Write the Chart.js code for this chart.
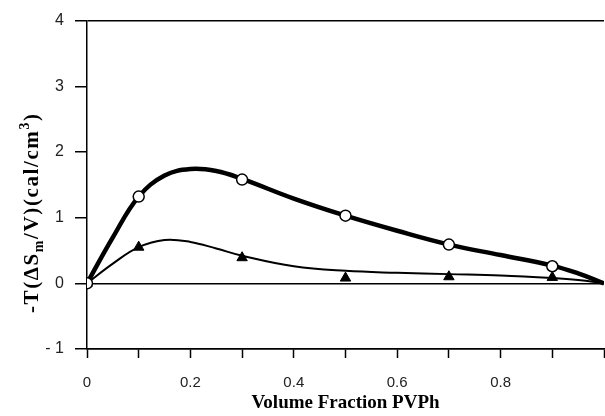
<!DOCTYPE html>
<html>
<head>
	<script src="https://cdn.jsdelivr.net/npm/chart.js@4.4.1/dist/chart.umd.min.js"></script>
	<style>
		html, body { margin: 0; background: #fff; overflow: hidden; }
		#wrapper { width: 605px; height: 416px; }
	</style>
</head>
<body>
	<div id="wrapper"><canvas id="myChart" width="605" height="416"></canvas></div>
	<script>
// measured points (volume fraction PVPh)
var circleX = [0, 0.1, 0.3, 0.5, 0.7, 0.9];
var circleY = [0, 1.32, 1.58, 1.03, 0.59, 0.26];
var triX = [0, 0.1, 0.3, 0.5, 0.7, 0.9];
var triY = [0, 0.55, 0.39, 0.08, 0.1, 0.09];

// smooth curves
var fitX = [0, 0.05, 0.1, 0.15, 0.2, 0.25, 0.3, 0.4, 0.5, 0.6, 0.7, 0.8, 0.9, 0.95, 1.0];
var thickY = [0, 0.70, 1.32, 1.64, 1.74, 1.71, 1.59, 1.29, 1.03, 0.8, 0.59, 0.43, 0.27, 0.15, 0];
var thinY = [0, 0.30, 0.55, 0.66, 0.63, 0.53, 0.42, 0.26, 0.19, 0.16, 0.14, 0.12, 0.08, 0.05, 0];

var yTicks = [-1, 0, 1, 2, 3, 4];
var xLabels = [0, 0.2, 0.4, 0.6, 0.8];

function pts(xs, ys) {
	return xs.map(function(x, i) { return {x: x, y: ys[i]}; });
}

// stretch the plot to the right edge of the canvas
var stretchRight = {
	id: 'stretchRight',
	afterLayout: function(chart) {
		var r = chart.width - 1;
		var a = chart.chartArea;
		a.right = r;
		a.width = r - a.left;
		var x = chart.scales.x;
		x.right = r;
		x.width = r - x.left;
		x.configure();
	}
};

// y title with subscript m and superscript 3, drawn letter by letter
var yTitle = {
	id: 'yTitle',
	afterDraw: function(chart) {
		var c = chart.ctx;
		var parts = [
			['-T(ΔS', 0, 21], ['m', 5, 14], ['/V)(cal/cm', 0, 21], ['3', -9, 14], [')', 0, 21]
		];
		c.save();
		c.translate(38, 313);
		c.rotate(-Math.PI / 2);
		c.fillStyle = '#000';
		c.textBaseline = 'alphabetic';
		var x = 0;
		parts.forEach(function(p) {
			c.font = 'bold ' + p[2] + 'px "Liberation Serif"';
			p[0].split('').forEach(function(ch) {
				c.fillText(ch, x, p[1]);
				x += c.measureText(ch).width + 1.6;
			});
		});
		c.restore();
	}
};

var ctx = document.getElementById("myChart");
var myChart = new Chart(ctx, {
	type: 'scatter',
	data: {
		datasets: [
			{
				data: pts(circleX, circleY),
				pointStyle: 'circle',
				pointRadius: 5.5,
				pointBackgroundColor: '#fff',
				pointBorderColor: '#000',
				pointBorderWidth: 1.5,
				showLine: false,
				order: 0
			},
			{
				data: pts(triX, triY),
				pointStyle: 'triangle',
				pointRadius: 6,
				pointBackgroundColor: '#000',
				pointBorderColor: '#000',
				pointBorderWidth: 1,
				showLine: false,
				order: 1
			},
			{
				data: pts(fitX, thickY),
				showLine: true,
				borderColor: '#000',
				borderWidth: 4.5,
				pointRadius: 0,
				tension: 0.4,
				order: 2
			},
			{
				data: pts(fitX, thinY),
				showLine: true,
				borderColor: '#000',
				borderWidth: 2,
				pointRadius: 0,
				tension: 0.4,
				order: 3
			}
		]
	},
	options: {
		responsive: false,
		animation: false,
		layout: { padding: { left: 0, right: 1, top: 19, bottom: 0 } },
		plugins: { legend: { display: false }, tooltip: { enabled: false } },
		scales: {
			x: {
				type: 'linear',
				min: 0,
				max: 1,
				afterFit: function(s) { s.height = 67; },
				afterBuildTicks: function(s) {
					var t = [];
					for (var i = 0; i <= 10; i++) t.push({value: i / 10});
					s.ticks = t;
				},
				grid: {
					drawOnChartArea: false,
					drawTicks: true,
					tickLength: 9,
					tickColor: '#000',
					tickWidth: 1.5
				},
				border: { display: true, color: '#000', width: 1.5 },
				ticks: {
					padding: 16,
					color: '#222',
					maxRotation: 0,
					font: { family: 'Liberation Sans', size: 15 },
					callback: function(v) {
						var r = Math.round(v * 10) / 10;
						return xLabels.indexOf(r) >= 0 ? String(r) : '';
					}
				},
				title: {
					display: true,
					text: 'Volume Fraction PVPh',
					color: '#000',
					font: { family: 'Liberation Serif', size: 19, weight: 'bold' },
					padding: { top: 0, bottom: 2 }
				}
			},
			y: {
				min: -1,
				max: 4,
				afterFit: function(s) { s.width = 87; },
				afterBuildTicks: function(s) {
					s.ticks = yTicks.map(function(v) { return {value: v}; });
				},
				grid: {
					drawOnChartArea: true,
					tickLength: 12,
					lineWidth: 1.5,
					tickColor: '#000',
					color: function(c) {
						var v = c.tick ? c.tick.value : null;
						return (v === 4 || v === 0 || v === -1) ? '#000' : 'rgba(0,0,0,0)';
					}
				},
				border: { display: true, color: '#000', width: 1.5 },
				ticks: {
					padding: 11,
					color: '#222',
					font: { family: 'Liberation Sans', size: 16 },
					callback: function(v) { return v < 0 ? '- ' + Math.abs(v) : String(v); }
				},
				title: { display: false }
			}
		}
	},
	plugins: [stretchRight, yTitle]
});
	</script>
</body>
</html>
